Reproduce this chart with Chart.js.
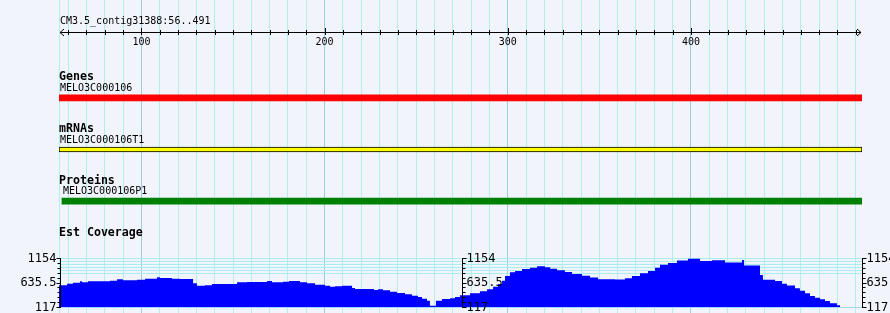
<!DOCTYPE html>
<html lang="en">
<head>
<meta charset="UTF-8">
<title>CM3.5_contig31388:56..491</title>
<script src="https://cdn.jsdelivr.net/npm/chart.js"></script>
<style>
    body { margin: 0; background: #f1f4fa; }
    #wrap { position: relative; width: 890px; height: 313px; overflow: hidden; font-family: "DejaVu Sans Mono", monospace; color: #000; }
    canvas { position: absolute; left: 0; }
    .txt { position: absolute; font-size: 10px; line-height: 12px; white-space: pre; }
    .bold { font-size: 11.6px; font-weight: bold; }
</style>
</head>
<body>
<div id="wrap">
    <canvas id="cvBg" width="890" height="313" style="top:0px"></canvas>
    <canvas id="cvTracks" width="890" height="155" style="top:72px"></canvas>
    <canvas id="cvCov" width="890" height="65" style="top:248px"></canvas>
    <div class="txt" id="titulo" style="left:60px; top:15px"></div>
</div>

<script>
    // janela visivel (bp)
    const rulerStart = 55;
    const rulerEnd = 493.4;
    const rulerLabels = [100, 200, 300, 400];
    const regionName = 'CM3.5_contig31388:56..491';

    // tracks
    const trackNames = ['Genes', 'mRNAs', 'Proteins'];
    const trackFeatures = ['MELO3C000106', 'MELO3C000106T1', 'MELO3C000106P1'];
    const trackStarts = [55, 55, 56.6];
    const trackEnds = [493.4, 493.4, 493.4];

    // Est Coverage (inicio do degrau em bp, valor)
    const covTitle = 'Est Coverage';
    const covPos = [55, 59.4, 62.6, 66.5, 67.6, 70.8, 82.8, 86.7, 89.9, 97.6, 102.0, 108.5, 110.1, 116.7, 121.0,
        128.2, 130.3, 134.7, 138.5, 152.2, 157.6, 168.6, 171.3, 177.3, 180.6, 186.6, 190.4, 194.8, 200.2, 203.0,
        205.7, 209.5, 215.0, 216.6, 227.0, 229.2, 231.9, 235.7, 239.5, 243.9, 247.7, 251.0, 253.2, 255.9, 257.5,
        260.8, 264.1, 268.5, 271.2, 273.9, 279.4, 284.8, 288.7, 292.0, 294.7, 296.9, 298.5, 301.2, 304.0, 307.8,
        312.1, 316.0, 320.3, 323.2, 326.9, 331.2, 335.1, 340.5, 344.9, 349.3, 358.5, 364.0, 367.8, 372.2, 376.6,
        380.4, 383.1, 387.5, 392.4, 398.4, 405.0, 411.5, 418.6, 427.9, 429.0, 437.7, 439.3, 445.9, 449.7, 452.4,
        456.8, 459.5, 462.3, 465.0, 467.7, 470.5, 473.2, 475.9, 479.7, 481.4];
    const covVal = [576, 610, 631, 661, 640, 661, 674, 703, 682, 696, 716, 745, 731, 716, 710,
        618, 567, 576, 604, 640, 646, 667, 640, 653, 667, 640, 618, 589, 567, 547,
        555, 567, 519, 498, 477, 491, 470, 441, 413, 386, 356, 329, 293, 250, 144,
        250, 286, 301, 330, 364, 407, 449, 491, 547, 604, 674, 773, 851, 879, 921,
        949, 978, 957, 928, 893, 858, 815, 780, 740, 705, 700, 724, 773, 830, 879,
        950, 1010, 1050, 1100, 1140, 1090, 1104, 1060, 1110, 995, 794, 695, 665, 610, 570,
        512, 462, 407, 350, 314, 280, 244, 195, 153, 117];
    const covMin = 117;
    const covMax = 1154;
    const covTickLabels = ['1154', '635.5', '117'];
    const covGridValues = [1154, 1090.5, 1027, 963.5, 900, 836.5, 117];

    const padX = { left: 59, right: 28 };
    const fonte = '"DejaVu Sans Mono", monospace';

    document.getElementById('titulo').textContent = regionName;

    // regua + grade vertical
    const regua = {
        id: 'regua',
        afterDraw(chart) {
            const ctx = chart.ctx;
            const x = chart.scales.x;
            const y0 = 32.5;
            const xa = x.left + 1;
            const xb = x.right - 1;
            ctx.save();
            ctx.strokeStyle = '#000';
            ctx.lineWidth = 1;
            ctx.beginPath();
            ctx.moveTo(xa, y0);
            ctx.lineTo(xb, y0);
            ctx.moveTo(xa + 4, y0 - 3.5);
            ctx.lineTo(xa, y0);
            ctx.lineTo(xa + 4, y0 + 3.5);
            ctx.moveTo(xb - 4, y0 - 3.5);
            ctx.lineTo(xb, y0);
            ctx.lineTo(xb - 4, y0 + 3.5);
            for (let v = 60; v < rulerEnd; v += 10) {
                const px = Math.round(x.getPixelForValue(v)) + 0.5;
                ctx.moveTo(px, v % 100 === 0 ? 28 : 30);
                ctx.lineTo(px, 35);
            }
            ctx.stroke();
            ctx.fillStyle = '#000';
            ctx.font = '10px ' + fonte;
            ctx.textAlign = 'center';
            ctx.textBaseline = 'middle';
            rulerLabels.forEach(v => ctx.fillText(String(v), x.getPixelForValue(v), 42));
            ctx.restore();
        }
    };

    new Chart(document.getElementById('cvBg'), {
        type: 'line',
        data: { datasets: [] },
        options: {
            responsive: false,
            animation: false,
            layout: { padding: { left: padX.left, right: padX.right, top: 0, bottom: 0 } },
            plugins: { legend: { display: false }, tooltip: { enabled: false } },
            scales: {
                x: {
                    type: 'linear',
                    min: rulerStart,
                    max: rulerEnd,
                    afterBuildTicks: axis => {
                        const t = [{ value: rulerStart }];
                        for (let v = 60; v < rulerEnd; v += 10) t.push({ value: v });
                        axis.ticks = t;
                    },
                    ticks: { display: false },
                    border: { display: false },
                    grid: {
                        drawTicks: false,
                        color: c => (c.tick && c.tick.value % 100 === 0) ? '#9ccde6' : '#b2eef0'
                    }
                },
                y: { display: false }
            }
        },
        plugins: [regua]
    });

    // tracks
    const trackStyles = [
        { bg: '#ff0000', border: '#ff0000', bw: 0, h: 6 },
        { bg: '#ffff00', border: '#000000', bw: 1, h: 5 },
        { bg: '#008000', border: '#008000', bw: 0, h: 6 }
    ];

    const graficoTracks = new Chart(document.getElementById('cvTracks'), {
        type: 'bar',
        data: {
            labels: trackNames,
            datasets: trackNames.map((nome, i) => ({
                label: nome,
                data: trackNames.map((_, j) => j === i ? [trackStarts[i], trackEnds[i]] : null),
                backgroundColor: trackStyles[i].bg,
                borderColor: trackStyles[i].border,
                borderWidth: trackStyles[i].bw,
                borderSkipped: false,
                barThickness: trackStyles[i].h,
                grouped: false
            }))
        },
        options: {
            indexAxis: 'y',
            responsive: false,
            animation: false,
            layout: { padding: { left: padX.left, right: padX.right, top: 0, bottom: 0 } },
            plugins: { legend: { display: false }, tooltip: { enabled: false } },
            scales: {
                x: { type: 'linear', min: rulerStart, max: rulerEnd, display: false },
                y: { display: false, offset: true }
            }
        }
    });

    const wrap = document.getElementById('wrap');
    function addTexto(txt, left, centro, bold) {
        const d = document.createElement('div');
        d.className = bold ? 'txt bold' : 'txt';
        d.textContent = txt;
        d.style.left = left + 'px';
        d.style.top = (centro - 6) + 'px';
        wrap.appendChild(d);
    }

    trackNames.forEach((nome, i) => {
        const centro = 72 + graficoTracks.scales.y.getPixelForValue(i);
        const xIni = graficoTracks.scales.x.getPixelForValue(trackStarts[i]);
        addTexto(nome, 59, centro - 21.5, true);
        addTexto(trackFeatures[i], Math.round(xIni) + 1, centro - 10, false);
    });

    // coverage
    const eixosCov = {
        id: 'eixosCov',
        afterDraw(chart) {
            const ctx = chart.ctx;
            const y = chart.scales.y;
            const a = chart.chartArea;
            const xs = [a.left + 1.5, Math.round((a.left + a.right) / 2) + 1.5, a.right + 0.5];
            const passo = (covMax - covMin) / 10;
            ctx.save();
            ctx.strokeStyle = '#000';
            ctx.fillStyle = '#000';
            ctx.lineWidth = 1;
            ctx.font = '12px ' + fonte;
            ctx.textBaseline = 'middle';
            xs.forEach((x, k) => {
                const dir = k === 0 ? -1 : 1;
                ctx.beginPath();
                ctx.moveTo(x, Math.round(y.getPixelForValue(covMax)));
                ctx.lineTo(x, Math.round(y.getPixelForValue(covMin)) + 1);
                for (let i = 0; i <= 10; i++) {
                    const py = Math.round(y.getPixelForValue(covMin + i * passo)) + 0.5;
                    const len = i % 5 === 0 ? 4 : 3;
                    ctx.moveTo(x, py);
                    ctx.lineTo(x + dir * len, py);
                }
                ctx.stroke();
                ctx.textAlign = k === 0 ? 'right' : 'left';
                const vals = [covMax, (covMax + covMin) / 2, covMin];
                vals.forEach((v, j) => {
                    ctx.fillText(covTickLabels[j], x + dir * 4, y.getPixelForValue(v) + 0.5);
                });
            });
            ctx.restore();
        }
    };

    const pontosCov = covPos.map((p, i) => ({ x: p, y: covVal[i] }));
    pontosCov.push({ x: rulerEnd, y: covVal[covVal.length - 1] });

    const graficoCov = new Chart(document.getElementById('cvCov'), {
        type: 'line',
        data: {
            datasets: [{
                label: covTitle,
                data: pontosCov,
                stepped: 'before',
                fill: 'start',
                backgroundColor: '#0000ff',
                borderColor: '#0000ff',
                borderWidth: 0,
                pointRadius: 0
            }]
        },
        options: {
            responsive: false,
            animation: false,
            layout: { padding: { left: padX.left, right: padX.right, top: 10, bottom: 6 } },
            plugins: { legend: { display: false }, tooltip: { enabled: false } },
            scales: {
                x: { type: 'linear', min: rulerStart, max: rulerEnd, display: false },
                y: {
                    min: covMin,
                    max: covMax,
                    afterBuildTicks: axis => { axis.ticks = covGridValues.map(v => ({ value: v })); },
                    ticks: { display: false },
                    border: { display: false },
                    grid: {
                        drawTicks: false,
                        color: c => (c.tick && c.tick.value === covMin) ? '#9fd8f0' : '#a8eef0'
                    }
                }
            }
        },
        plugins: [eixosCov]
    });

    addTexto(covTitle, 59, 248 + graficoCov.chartArea.top - 26.5, true);
</script>
</body>
</html>
